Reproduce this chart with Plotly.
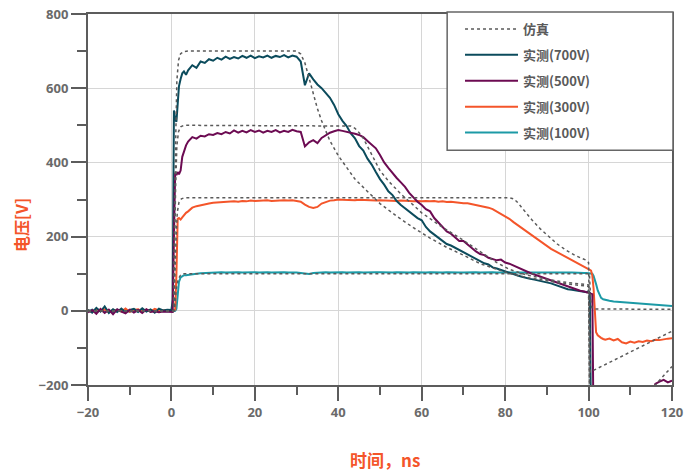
import plotly.graph_objects as go

# ---------------- data ----------------
time_ns = [-20, -19, -18, -17, -16, -15, -14, -13, -12, -11, -10, -9, -8, -7, -6, -5, -4, -3, -2, -1, 0,
           0.3, 0.6, 0.9, 1.2, 1.5, 1.8, 2.2, 2.6, 3, 3.5,
           4, 5, 6, 7, 8, 9, 10, 11, 12, 13,
           14, 15, 16, 17, 18, 19, 20, 21, 22, 23,
           24, 25, 26, 27, 28, 29, 30, 31, 32, 33,
           34, 35, 36, 37, 38, 39, 40, 41, 42, 43,
           44, 45, 46, 47, 48, 49, 50, 51, 52, 53,
           54, 55, 56, 57, 58, 59, 60, 61, 62, 63,
           64, 65, 66, 67, 68, 69, 70, 71, 72, 73,
           74, 75, 76, 77, 78, 79, 80, 81, 82, 83,
           84, 85, 86, 87, 88, 89, 90, 91, 92, 93,
           94, 95, 96, 97, 98, 99,
           99.5, 100, 100.3, 100.6, 100.9, 101.2, 101.5, 101.8, 102.2, 102.6, 103, 103.5,
           104, 105, 106, 107, 108, 109, 110, 111, 112, 113, 114, 115, 116, 117, 118, 119, 120]

meas_700 = [3, -5, 8, -2, 12, -6, 4, -3, 6, -4, 2, 5, -3, 7, -2, 4, -5, 6, 1, 3, 2,
            30, 540, 515, 510, 560, 605, 625, 640, 645, 636,
            648, 662, 655, 672, 668, 678, 674, 682, 677, 685,
            679, 684, 680, 687, 682, 688, 681, 686, 683, 688,
            682, 687, 684, 689, 683, 688, 685, 672, 608, 640,
            624, 610, 600, 588, 574, 555, 530, 512, 498, 478,
            465, 444, 432, 410, 394, 374, 355, 340, 322, 312,
            296, 285, 276, 268, 258, 250, 244, 226, 214, 206,
            196, 190, 180, 176, 170, 166, 160, 153, 148, 140,
            136, 128, 125, 117, 114, 110, 106, 101, 99, 95,
            92, 88, 86, 84, 82, 80, 76, 74, 70, 66,
            62, 58, 57, 55, 53, 52,
            50, 53, 49, -330, -330, -330, -330, -330, -330, -330, -330, -330,
            -330, -330, -330, -330, -330, -330, -330, -330, -330, -330, -330, -330, -330, -330, -330, -330, -330]

meas_500 = [-4, 2, -8, 5, -6, 3, -9, 4, -2, -7, 3, -5, 2, -6, 4, -3, -1, -4, -2, -3, -2,
            -3, 200, 372, 366, 374, 368, 378, 415, 432, 446,
            456, 468, 464, 472, 470, 476, 474, 479, 476, 482,
            478, 486, 480, 485, 481, 487, 482, 486, 480, 485,
            482, 487, 481, 485, 482, 488, 484, 482, 443, 454,
            460, 452, 466, 474, 480, 484, 487, 485, 483, 480,
            477, 474, 468, 458, 448, 438, 420, 400, 385, 370,
            358, 346, 334, 318, 305, 294, 285, 274, 268, 250,
            238, 226, 214, 208, 198, 188, 188, 178, 168, 160,
            153, 150, 143, 140, 136, 138, 130, 127, 122, 116,
            110, 106, 102, 98, 94, 91, 86, 83, 78, 74,
            70, 66, 62, 58, 54, 52,
            50, 49, 47, 46, 45, -330, -330, -330, -330, -330, -330, -330,
            -330, -330, -330, -330, -330, -330, -330, -330, -330, -330, -330, -250, -197, -191, -186, -193, -188]

meas_300 = [2, -3, 5, -1, 4, -4, 3, 1, -2, 6, -3, 2, 4, -1, 3, -2, 5, 1, 2, 3, 2,
            2, 2, 3, 100, 248, 250, 246, 252, 258, 264,
            268, 278, 282, 285, 287, 289, 291, 292, 293, 294,
            293, 295, 294, 296, 295, 297, 296, 297, 296, 298,
            296, 297, 296, 298, 297, 298, 296, 294, 286, 280,
            277, 280, 289, 294, 297, 298, 300, 299, 298, 299,
            298, 299, 298, 297, 298, 297, 298, 297, 296, 297,
            296, 297, 296, 296, 295, 296, 295, 296, 295, 296,
            294, 295, 293, 294, 292, 292, 290, 290, 288, 286,
            284, 281, 278, 274, 268, 262, 255, 248, 239, 231,
            222, 213, 205, 197, 189, 181, 174, 167, 161, 155,
            150, 144, 138, 132, 126, 120,
            116, 112, 110, 108, 95, 60, -20, -58, -66, -70, -73, -76,
            -78, -75, -80, -76, -85, -88, -83, -86, -82, -84, -80, -82, -78, -79, -76, -75, -74]

meas_100 = [-2, 3, -4, 1, -3, 2, -5, 3, -1, 2, -3, 1, -2, 3, -1, 2, -3, 1, -1, 0, -1,
            -1, -1, 0, 5, 45, 78, 90, 94, 96, 96,
            97, 100, 100, 101, 102, 103, 102, 103, 104, 103,
            104, 103, 104, 103, 104, 103, 104, 103, 104, 104,
            103, 104, 103, 104, 103, 104, 103, 102, 100, 99,
            102, 103, 103, 104, 103, 104, 103, 104, 103, 104,
            103, 104, 103, 104, 103, 104, 104, 103, 104, 103,
            104, 103, 104, 103, 104, 103, 104, 103, 104, 103,
            104, 103, 104, 103, 104, 103, 103, 104, 103, 104,
            103, 104, 103, 104, 103, 104, 103, 103, 104, 103,
            103, 104, 103, 103, 104, 103, 103, 104, 103, 103,
            104, 103, 103, 102, 103, 102,
            102, 102, 102, 101, 100, 94, 85, 72, 55, 42, 35, 31,
            29, 27, 25, 24, 23, 22, 21, 20, 19, 18, 17, 16, 15, 14, 14, 13, 13]

sim700_t = [-20, 0.5, 1.0, 1.3, 1.7, 2.2, 3, 4, 30, 31, 32, 33, 34, 35, 36, 38, 40, 42, 44, 46.7,
            50, 54, 58, 62, 66, 70, 74, 78, 81, 85, 90, 95, 100, 100.4, 120]
sim700_v = [0, 0, 450, 620, 675, 693, 699, 700, 700, 692, 668, 628, 584, 545, 512, 458, 418, 386, 355, 325,
            289, 255, 224, 196, 171, 150, 127, 112, 101, 90, 80, 72, 66, -420, -260]

sim500_t = [-20, 0.5, 1.0, 1.3, 1.7, 2.2, 3, 42, 43, 44, 45, 46, 47.5, 49,
            50, 52, 55, 58, 60, 65, 70, 75, 78, 81, 85, 90, 95, 100, 100.4, 120]
sim500_v = [0, 0, 330, 445, 483, 496, 500, 500, 498, 492, 480, 465, 433, 400,
            378, 350, 315, 285, 264, 225, 190, 152, 130, 112, 97, 85, 76, 70, -395, -150]

sim300_t = [-20, 0.6, 1.1, 1.4, 1.8, 2.4, 3.2, 81, 82, 83, 84, 86.5, 88.5, 90.5, 92.5, 94.5, 97, 99.3, 100, 100.4, 120]
sim300_v = [0, 0, 190, 265, 292, 302, 305, 305, 302, 292, 278, 244, 220, 199, 180, 164, 148, 137, 130, -165, -55]

sim100_t = [-20, 0.7, 1.2, 1.6, 2.2, 3, 100.2, 100.5, 100.8, 101.5, 120]
sim100_v = [0, 0, 60, 85, 96, 100, 100, 30, 8, 5, 4]

series_names = ["实测(700V)", "实测(500V)", "实测(300V)", "实测(100V)"]
series_colors = ["#0b4b5c", "#6c0b52", "#f4552a", "#1c9aa6"]
sim_name = "仿真"
x_title = "时间，ns"
y_title = "电压[V]"

# ---------------- figure ----------------
fig = go.Figure()
measured = [meas_100, meas_300, meas_700, meas_500]
order = [3, 2, 0, 1]
for vals, idx in zip(measured, order):
    fig.add_trace(go.Scatter(
        x=time_ns, y=vals, mode="lines", name=series_names[idx],
        line=dict(color=series_colors[idx], width=2),
        legendrank=idx + 2, legendgroup=series_names[idx]))

sims = [(sim700_t, sim700_v), (sim500_t, sim500_v), (sim300_t, sim300_v), (sim100_t, sim100_v)]
for i, (t, v) in enumerate(sims):
    fig.add_trace(go.Scatter(
        x=t, y=v, mode="lines", name=sim_name,
        line=dict(color="#5a5a5a", width=1.5, dash="dot"),
        showlegend=(i == 0), legendrank=1, legendgroup="sim"))

axis_common = dict(
    showgrid=True, gridcolor="#d6d6d6", gridwidth=1, zeroline=False,
    showline=True, linecolor="#5c5c5c", linewidth=2, mirror=True,
    ticks="outside", tickwidth=2, tickcolor="#5c5c5c", automargin=False,
    tickfont=dict(family="Noto Sans, Open Sans, sans-serif", size=13, color="#6a6a6a", weight="bold"),
)

fig.update_layout(
    width=684, height=472,
    margin=dict(l=88, r=12, t=14, b=87, autoexpand=False),
    paper_bgcolor="white", plot_bgcolor="white",
    font=dict(family="Noto Sans, Noto Sans CJK SC, sans-serif"),
    xaxis=dict(range=[-20, 120], tick0=0, dtick=20, ticklen=14,
               minor=dict(dtick=10, ticklen=8, tickwidth=2, tickcolor="#5c5c5c", ticks="outside", showgrid=False),
               **axis_common),
    yaxis=dict(range=[-200, 800], tick0=0, dtick=200, ticklen=15,
               minor=dict(dtick=100, ticklen=9, tickwidth=2, tickcolor="#5c5c5c", ticks="outside", showgrid=False),
               **axis_common),
    showlegend=True,
    legend=dict(x=0.637, y=1.0, xanchor="left", yanchor="top",
                bgcolor="rgba(0,0,0,0)", borderwidth=0,
                traceorder="grouped", tracegroupgap=6, itemwidth=53,
                font=dict(family="Noto Sans CJK SC, Noto Sans, sans-serif", size=13, color="#5a5a5a", weight="bold")),
    shapes=[dict(type="rect", xref="paper", yref="paper",
                 x0=0.615, x1=1.0017, y0=0.633, y1=1.0054,
                 line=dict(color="#666666", width=1.5), fillcolor="white", layer="above")],
    annotations=[
        dict(text=y_title, xref="paper", yref="paper", x=-0.115, y=0.431, textangle=-90,
             showarrow=False, xanchor="center", yanchor="middle",
             font=dict(family="Noto Sans CJK SC, sans-serif", size=16, color="#f4552a", weight="bold")),
        dict(text=x_title, xref="paper", yref="paper", x=0.5086, y=-0.202,
             showarrow=False, xanchor="center", yanchor="middle",
             font=dict(family="Noto Sans CJK SC, sans-serif", size=17, color="#f4552a", weight="bold")),
    ],
)

fig.write_html("out.html")
